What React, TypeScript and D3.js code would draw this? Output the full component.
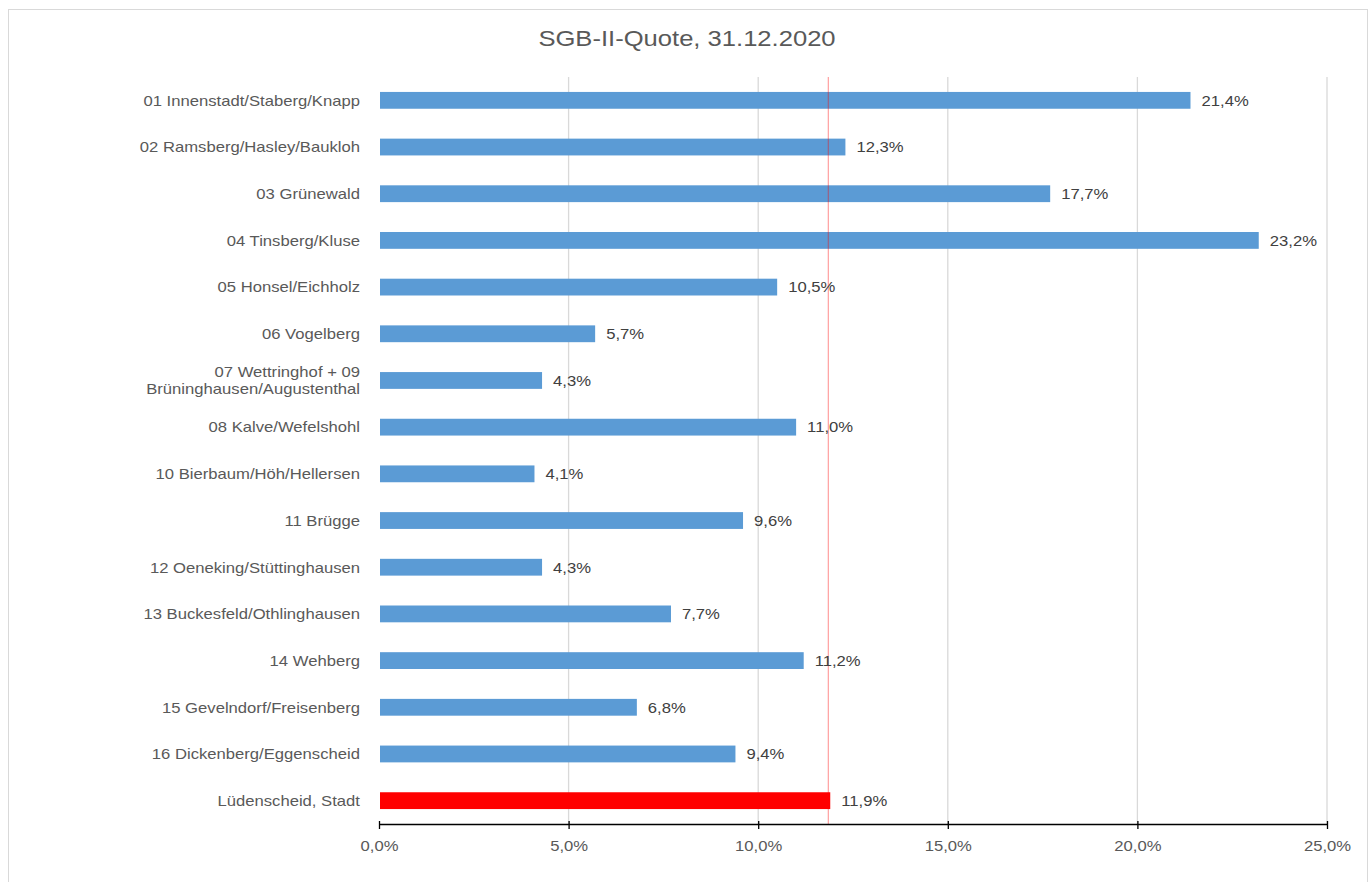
import { useEffect, useRef } from 'react'
import * as d3 from 'd3'

const categories = [
  '01 Innenstadt/Staberg/Knapp',
  '02 Ramsberg/Hasley/Baukloh',
  '03 Grünewald',
  '04 Tinsberg/Kluse',
  '05 Honsel/Eichholz',
  '06 Vogelberg',
  '07 Wettringhof + 09|Brüninghausen/Augustenthal',
  '08 Kalve/Wefelshohl',
  '10 Bierbaum/Höh/Hellersen',
  '11 Brügge',
  '12 Oeneking/Stüttinghausen',
  '13 Buckesfeld/Othlinghausen',
  '14 Wehberg',
  '15 Gevelndorf/Freisenberg',
  '16 Dickenberg/Eggenscheid',
  'Lüdenscheid, Stadt',
]
const quoteValues = [21.4, 12.3, 17.7, 23.2, 10.5, 5.7, 4.3, 11.0, 4.1, 9.6, 4.3, 7.7, 11.2, 6.8, 9.4, 11.9]
const xTicks = [0, 5, 10, 15, 20, 25]
const cityAverage = 11.85
const title = 'SGB-II-Quote, 31.12.2020'

const locale = d3.formatLocale({ decimal: ',', thousands: '.', grouping: [3], currency: ['', ' €'] })
const fmt = locale.format('.1f')

// the source picture is stretched a bit horizontally, text too
const SX = 1.19

export default function App() {
  const svgRef = useRef<SVGSVGElement>(null)

  useEffect(() => {
    document.body.style.margin = '0'
    if (!svgRef.current) return
    const width = 1371
    const height = 882
    const svg = d3.select(svgRef.current)
    svg.selectAll('*').remove()
    svg.attr('width', width).attr('height', height)

    const font = '"Liberation Sans", Arial, sans-serif'
    const margin = { top: 77, left: 379, right: 44, bottom: 58 }
    const innerW = width - margin.left - margin.right
    const innerH = height - margin.top - margin.bottom
    const stretch = (x: number, y: number) => `translate(${x},${y}) scale(${SX},1)`

    // outer frame
    svg.append('rect')
      .attr('x', 8.5).attr('y', 9.5)
      .attr('width', 1359).attr('height', 900)
      .attr('fill', '#fff')
      .attr('stroke', '#d9d9d9')

    svg.append('text')
      .attr('transform', stretch(687, 46))
      .attr('text-anchor', 'middle')
      .style('font-family', font)
      .style('font-size', '21.5px')
      .style('fill', '#595959')
      .text(title)

    const g = svg.append('g').attr('transform', `translate(${margin.left},${margin.top})`)

    const x = d3.scaleLinear().domain([0, 25]).range([0, innerW])
    const y = d3.scaleBand().domain(categories).range([0, innerH]).paddingInner(0.64).paddingOuter(0.32)

    // gridlines
    g.selectAll('.grid')
      .data(xTicks.slice(1))
      .enter().append('line')
      .attr('x1', d => x(d)).attr('x2', d => x(d))
      .attr('y1', 0).attr('y2', innerH)
      .attr('stroke', '#d9d9d9')
      .attr('stroke-width', 1.3)

    // bars
    g.selectAll('.bar')
      .data(categories)
      .enter().append('rect')
      .attr('x', x(0) + 1)
      .attr('y', d => y(d) || 0)
      .attr('width', (d, i) => x(quoteValues[i]) - x(0) - 1)
      .attr('height', y.bandwidth())
      .attr('fill', (d, i) => (i === categories.length - 1 ? '#ff0000' : '#5b9bd5'))

    // city average line
    g.append('line')
      .attr('x1', x(cityAverage)).attr('x2', x(cityAverage))
      .attr('y1', 0).attr('y2', innerH)
      .attr('stroke', '#ff0000')
      .attr('stroke-opacity', 0.35)
      .attr('stroke-width', 1.3)

    // value labels
    g.selectAll('.label')
      .data(categories)
      .enter().append('text')
      .attr('transform', (d, i) => stretch(x(quoteValues[i]) + 11, (y(d) || 0) + y.bandwidth() / 2))
      .attr('dy', '0.38em')
      .style('font-family', font)
      .style('font-size', '14px')
      .style('fill', '#404040')
      .text((d, i) => fmt(quoteValues[i]) + '%')

    // category labels
    const cat = g.selectAll('.cat')
      .data(categories)
      .enter().append('text')
      .attr('transform', d => stretch(-19, (y(d) || 0) + y.bandwidth() / 2))
      .attr('text-anchor', 'end')
      .style('font-family', font)
      .style('font-size', '14px')
      .style('fill', '#595959')
    cat.each(function (d) {
      const lines = d.split('|')
      const t = d3.select(this)
      lines.forEach((ln, k) => {
        t.append('tspan')
          .attr('x', 0)
          .attr('dy', k === 0 ? `${0.38 - (lines.length - 1) * 0.6}em` : '1.2em')
          .text(ln)
      })
    })

    // x axis
    const axis = g.append('g')
      .attr('transform', `translate(0,${innerH})`)
      .call(d3.axisBottom(x).tickValues(xTicks).tickSize(5).tickSizeOuter(0).tickFormat(d => fmt(d as number) + '%'))
    axis.select('.domain').attr('stroke', '#000').attr('stroke-width', 1.5)
    axis.selectAll('.tick line').attr('stroke', '#000').attr('stroke-width', 1.3).attr('y1', -3).attr('y2', 5)
    axis.selectAll('.tick text')
      .attr('y', 0)
      .attr('transform', stretch(0, 17))
      .style('font-family', font)
      .style('font-size', '14px')
      .style('fill', '#595959')
  }, [])

  return <svg ref={svgRef} style={{ display: 'block' }} />
}
